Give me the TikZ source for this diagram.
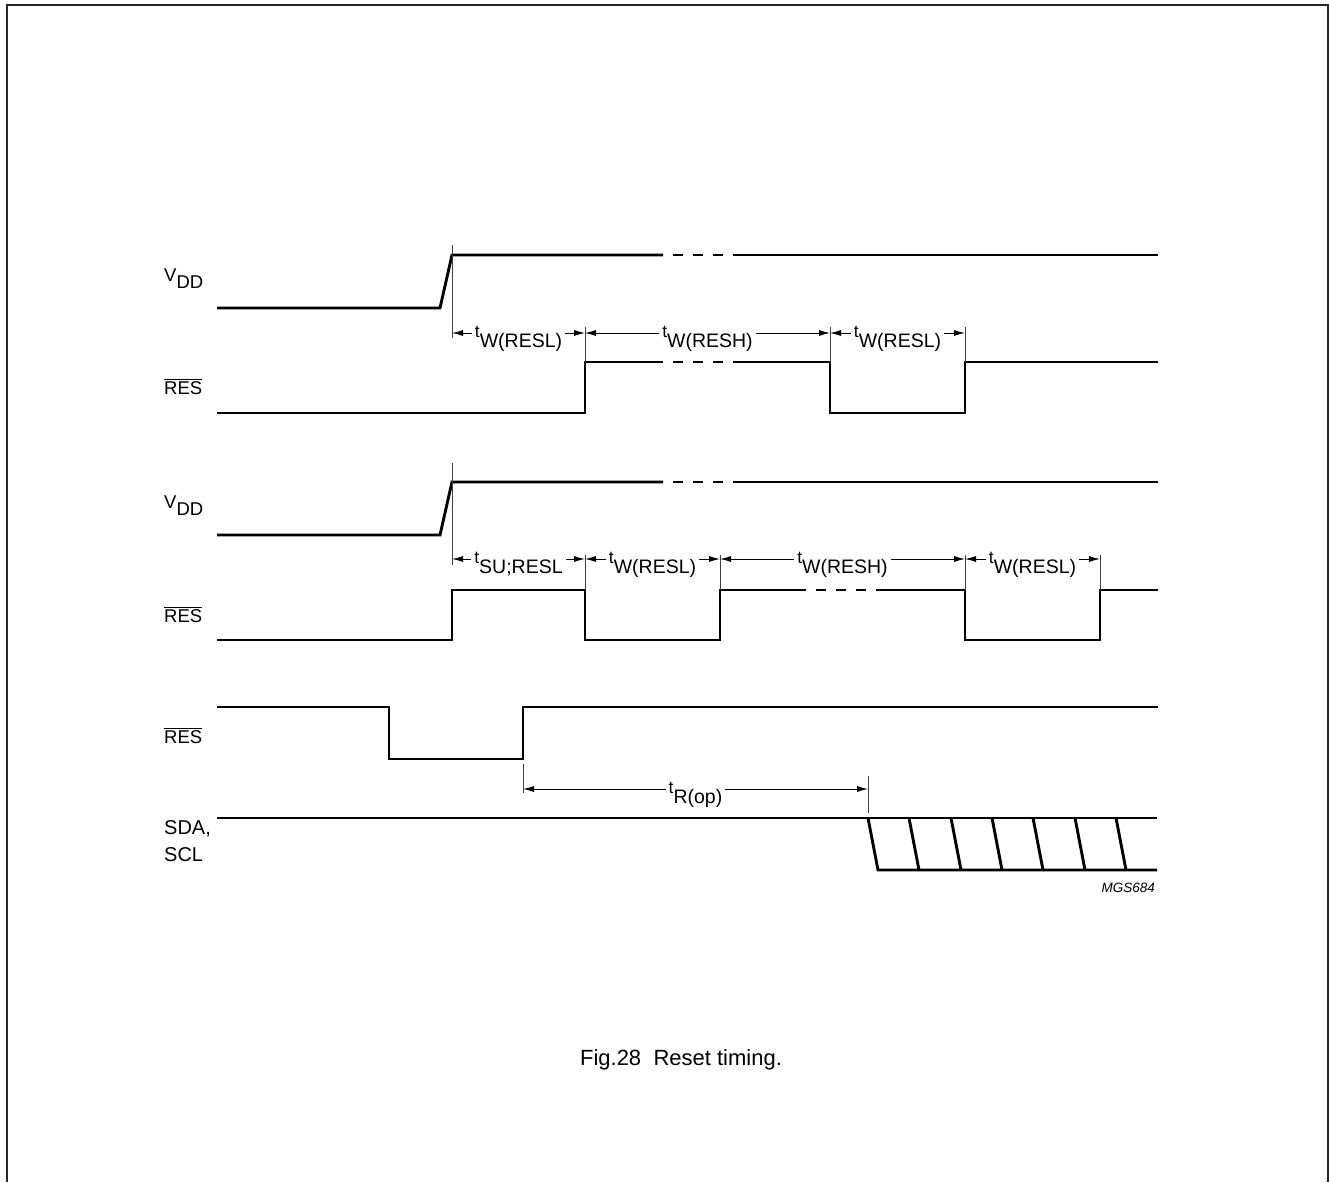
\documentclass[tikz,border=0pt]{standalone}
\usepackage{fontspec}
\setmainfont{Liberation Sans}
\usetikzlibrary{arrows.meta}

\newcommand{\tsym}[1]{\raisebox{10pt}{\fontsize{17.5pt}{17.5pt}\selectfont t}#1}
\newcommand{\vsym}[1]{V\raisebox{-7pt}{#1}}
\newcommand{\resbar}{$\overline{\mbox{RES}}$}

\begin{document}
\begin{tikzpicture}[x=1pt,y=-1pt,
wave/.style={line width=2.9pt},
gapdash/.style={line width=2.9pt,dash pattern=on 10pt off 10pt,dash phase=10pt},
tick/.style={line width=0.9pt,black!75},
dim/.style={line width=0.9pt,{Latex[length=11pt,width=6pt]}-{Latex[length=11pt,width=6pt]}},
siglab/.style={anchor=base west,inner sep=0pt,font=\fontsize{18.5pt}{22pt}\selectfont},
tlab/.style={anchor=base,fill=white,inner xsep=3pt,inner ysep=1pt,font=\fontsize{19.5pt}{23pt}\selectfont}]

\useasboundingbox (0,0) rectangle (1329,1182);
\draw[line width=2pt,black!85] (7,1182) -- (7,5) -- (1328,5) -- (1328,1182);

% signal names
\node[siglab] (vdda) at (164,281){\vsym{DD}};
\node[siglab] (resa) at (164,394){\resbar};
\node[siglab] (vddb) at (164,508){\vsym{DD}};
\node[siglab] (resb) at (164,622){\resbar};
\node[siglab] (resc) at (164,743){\resbar};
\node[siglab,font=\fontsize{20pt}{24pt}\selectfont] (sda) at (164,834){SDA,};
\node[siglab,font=\fontsize{20pt}{24pt}\selectfont] (scl) at (164,861){SCL};

% first diagram
\draw[wave] (217,308) -- (440,308) -- (452,255) -- (663,255);
\draw[gapdash] (663,255) -- (733,255);
\draw[wave] (733,255) -- (1158,255);

\draw[wave] (217,413) -- (585,413) -- (585,362) -- (663,362);
\draw[gapdash] (663,362) -- (733,362);
\draw[wave] (733,362) -- (830,362) -- (830,413) -- (965,413) -- (965,362) -- (1158,362);

\draw[tick] (452,245) -- (452,338);
\foreach \x in {585,830,965}
  \draw[tick] (\x,327) -- (\x,362);

\coordinate (pa1) at (452,333);
\coordinate (pa2) at (585,333);
\coordinate (pa3) at (830,333);
\coordinate (pa4) at (965,333);

\draw[dim] (pa1) to (pa2);
\draw[dim] (pa2) to (pa3);
\draw[dim] (pa3) to (pa4);
\node[tlab] (twa) at (518.5,347){\tsym{W(RESL)}};
\node[tlab] (twb) at (707.5,347){\tsym{W(RESH)}};
\node[tlab] (twc) at (897.5,347){\tsym{W(RESL)}};

% second diagram
\draw[wave] (217,535) -- (440,535) -- (452,482) -- (663,482);
\draw[gapdash] (663,482) -- (733,482);
\draw[wave] (733,482) -- (1158,482);

\draw[wave] (217,640) -- (452,640) -- (452,590) -- (585,590) -- (585,640) -- (720,640) -- (720,590) -- (806,590);
\draw[gapdash] (806,590) -- (876,590);
\draw[wave] (876,590) -- (965,590) -- (965,640) -- (1100,640) -- (1100,590) -- (1158,590);

\draw[tick] (452,463) -- (452,565);
\foreach \x in {585,720,965,1100}
  \draw[tick] (\x,555) -- (\x,590);

\coordinate (pb1) at (452,559);
\coordinate (pb2) at (585,559);
\coordinate (pb3) at (720,559);
\coordinate (pb4) at (965,559);
\coordinate (pb5) at (1100,559);

\draw[dim] (pb1) to (pb2);
\draw[dim] (pb2) to (pb3);
\draw[dim] (pb3) to (pb4);
\draw[dim] (pb4) to (pb5);
\node[tlab] (tsu) at (518.5,573){\tsym{SU;RESL}};
\node[tlab] (twd) at (652.5,573){\tsym{W(RESL)}};
\node[tlab] (twe) at (842.5,573){\tsym{W(RESH)}};
\node[tlab] (twf) at (1032.5,573){\tsym{W(RESL)}};

% third diagram
\draw[wave] (217,707) -- (389,707) -- (389,759) -- (523,759) -- (523,707) -- (1158,707);

\draw[wave] (217,818) -- (1157,818);
\draw[wave] (868,818) -- (878,870) -- (1157,870);
\foreach \x in {909,951,992,1033,1075,1116}
  \draw[wave] (\x,818) -- (\x+10,870);

\draw[tick] (523,764) -- (523,793);
\draw[tick] (868,776) -- (868,813);

\coordinate (pc1) at (523,789);
\coordinate (pc2) at (868,789);
\draw[dim] (pc1) to (pc2);
\node[tlab] (trop) at (695.5,803){\tsym{R(op)}};

\node[anchor=base east,inner sep=0pt,font=\itshape\fontsize{13.5pt}{16pt}\selectfont] (code) at (1155,892){MGS684};

\node[font=\fontsize{22pt}{26pt}\selectfont] (cap) at (681,1060){Fig.28\hspace{0.56em}Reset timing.};
\end{tikzpicture}
\end{document}
